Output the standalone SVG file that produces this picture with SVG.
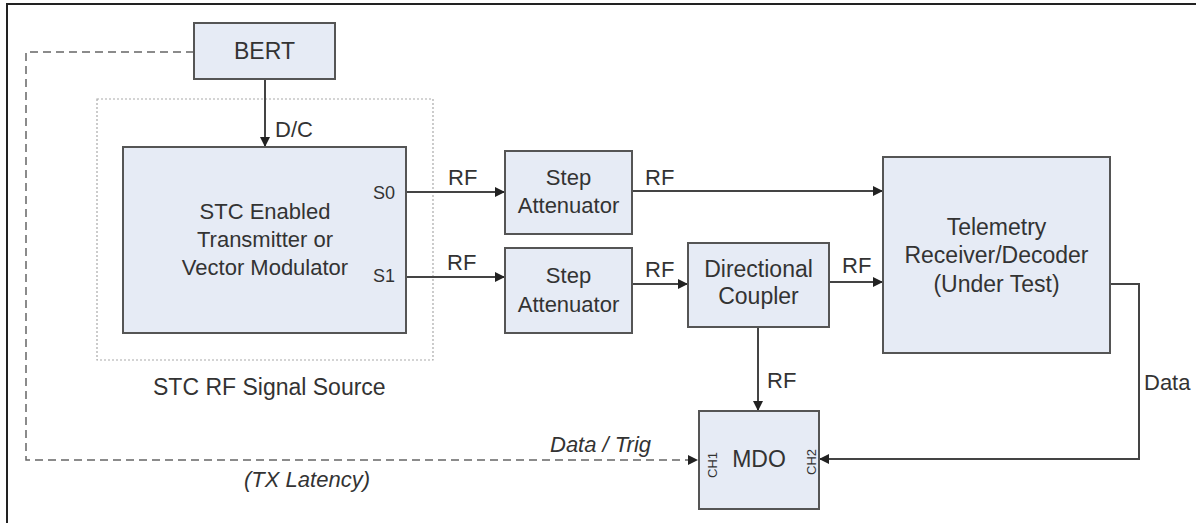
<svg xmlns="http://www.w3.org/2000/svg" width="1196" height="523" viewBox="0 0 1196 523">
<defs>
<style>
.box{fill:#e6ebf5;stroke:#555;stroke-width:2}
.t{font-family:"Liberation Sans",Arial,sans-serif;fill:#333;font-size:22px}
.c{text-anchor:middle}
.i{font-style:italic}
.ln{fill:none;stroke:#444;stroke-width:2}
.dash{fill:none;stroke:#666;stroke-width:1.5;stroke-dasharray:8,5}
.dot{fill:none;stroke:#aaa;stroke-width:1.2;stroke-dasharray:2,2}
</style>
<marker id="ah" markerWidth="10" markerHeight="10" refX="9" refY="5" orient="auto" markerUnits="userSpaceOnUse">
<path d="M0,0 L10,5 L0,10 z" fill="#222"/>
</marker>
</defs>
<rect width="1196" height="523" fill="#fff"/>
<path d="M7,523 L7,4 L1196,4" fill="none" stroke="#222" stroke-width="2"/>

<g id="stc-source-group">
<rect class="dot" x="97" y="99" width="336" height="261"/>
<text class="t" x="153" y="395" style="font-size:23px">STC RF Signal Source</text>
</g>

<g id="connectors">
<path class="ln" d="M265,79 L265,146" marker-end="url(#ah)"/>
<path class="ln" d="M406,192 L504,192" marker-end="url(#ah)"/>
<path class="ln" d="M406,277 L504,277" marker-end="url(#ah)"/>
<path class="ln" d="M632,191 L882,191" marker-end="url(#ah)"/>
<path class="ln" d="M632,284 L687,284" marker-end="url(#ah)"/>
<path class="ln" d="M829,282 L882,282" marker-end="url(#ah)"/>
<path class="ln" d="M758,327 L758,410" marker-end="url(#ah)"/>
<path class="ln" d="M1110,284 L1139,284 L1139,459 L820,459" marker-end="url(#ah)"/>
<path class="dash" d="M194,52 L26,52 L26,460 L697,460" marker-end="url(#ah)"/>
<text class="t" x="275" y="137">D/C</text>
<text class="t" x="448" y="185">RF</text>
<text class="t" x="447" y="270">RF</text>
<text class="t" x="645" y="185">RF</text>
<text class="t" x="645" y="277">RF</text>
<text class="t" x="842" y="273">RF</text>
<text class="t" x="767" y="388">RF</text>
<text class="t" x="1144" y="390">Data</text>
<text class="t i" x="550" y="452">Data / Trig</text>
<text class="t i c" x="307" y="487">(TX Latency)</text>
</g>

<g id="bert">
<rect class="box" x="194" y="23" width="141" height="56"/>
<text class="t c" x="264.5" y="59" style="font-size:23px">BERT</text>
</g>

<g id="stc-transmitter">
<rect class="box" x="123" y="147" width="283" height="186"/>
<text class="t c" x="265" y="219">STC Enabled</text>
<text class="t c" x="265" y="247">Transmitter or</text>
<text class="t c" x="265" y="275">Vector Modulator</text>
<text class="t" x="373" y="199" style="font-size:18px">S0</text>
<text class="t" x="373" y="282" style="font-size:18px">S1</text>
</g>

<g id="step-attenuator-1">
<rect class="box" x="505" y="151" width="127" height="83"/>
<text class="t c" x="568.5" y="185">Step</text>
<text class="t c" x="568.5" y="213">Attenuator</text>
</g>

<g id="step-attenuator-2">
<rect class="box" x="505" y="248" width="127" height="85"/>
<text class="t c" x="568.5" y="283">Step</text>
<text class="t c" x="568.5" y="312">Attenuator</text>
</g>

<g id="directional-coupler">
<rect class="box" x="688" y="243" width="141" height="84"/>
<text class="t c" x="758.5" y="277" style="font-size:23px">Directional</text>
<text class="t c" x="758.5" y="304" style="font-size:23px">Coupler</text>
</g>

<g id="telemetry-receiver">
<rect class="box" x="883" y="157" width="227" height="196"/>
<text class="t c" x="996.5" y="235" style="font-size:23px">Telemetry</text>
<text class="t c" x="996.5" y="263" style="font-size:23px">Receiver/Decoder</text>
<text class="t c" x="996.5" y="292" style="font-size:23px">(Under Test)</text>
</g>

<g id="mdo">
<rect class="box" x="699" y="411" width="120" height="98"/>
<text class="t c" x="759" y="467" style="font-size:23px">MDO</text>
<text class="t c" transform="translate(717,465) rotate(-90)" style="font-size:13px">CH1</text>
<text class="t c" transform="translate(816,462) rotate(-90)" style="font-size:13px">CH2</text>
</g>
</svg>
